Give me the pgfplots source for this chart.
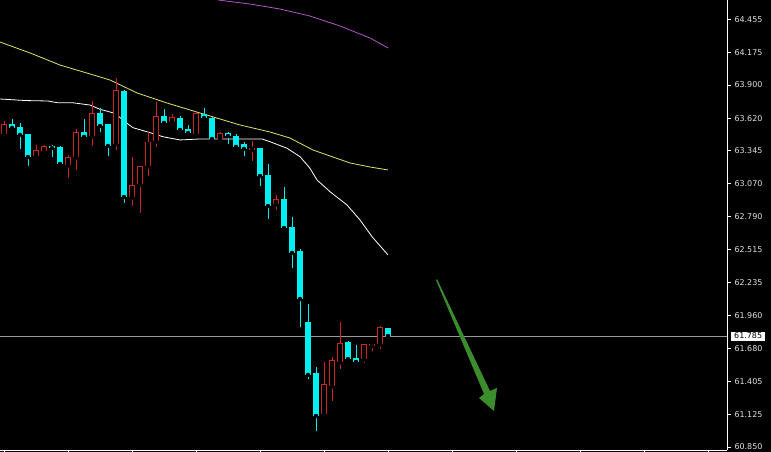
\documentclass[border=0pt]{standalone}
\usepackage{fontspec}
\setmainfont{DejaVu Sans}
\usepackage{pgfplots}
\usepackage{pgfplotstable}
\pgfplotsset{compat=1.18}

\definecolor{bullred}{RGB}{205,35,35}
\definecolor{bearcyan}{RGB}{0,240,240}
\definecolor{mayellow}{RGB}{225,225,110}
\definecolor{mamagenta}{RGB}{175,85,195}
\definecolor{arrowgreen}{RGB}{58,140,45}
\definecolor{lbl}{RGB}{225,225,225}

% rising candles (close above open)
\pgfplotstableread{
x  o      h      l      c
0  63.495 63.597 63.453 63.571
4  63.302 63.394 63.276 63.352
5  63.344 63.394 63.335 63.386
8  63.226 63.310 63.100 63.293
9  63.293 63.529 63.167 63.504
11 63.470 63.765 63.369 63.656
14 63.403 63.959 63.335 63.858
16 62.956 63.293 62.864 63.057
17 63.066 63.217 62.805 63.217
18 63.217 63.504 63.116 63.420
19 63.428 63.757 63.361 63.639
21 63.588 63.656 63.554 63.630
24 63.487 63.664 63.470 63.656
27 63.445 63.504 63.403 63.495
31 63.357 63.428 63.243 63.369
34 62.897 62.973 62.830 62.939
40 61.128 61.566 61.120 61.381
41 61.364 61.608 61.221 61.583
42 61.566 61.903 61.490 61.726
45 61.591 61.718 61.541 61.718
46 61.705 61.726 61.638 61.718
47 61.718 61.869 61.659 61.853
}\bull

% falling candles (close below open)
\pgfplotstableread{
x  o      h      l      c
1  63.571 63.613 63.512 63.538
2  63.546 63.580 63.344 63.479
3  63.487 63.487 63.201 63.293
6  63.386 63.394 63.276 63.369
7  63.378 63.386 63.209 63.234
10 63.504 63.613 63.458 63.462
12 63.664 63.706 63.487 63.554
13 63.571 63.571 63.285 63.386
15 63.849 63.858 62.889 62.956
20 63.639 63.698 63.571 63.580
22 63.622 63.639 63.487 63.521
23 63.529 63.563 63.490 63.495
25 63.656 63.706 63.588 63.622
26 63.622 63.630 63.411 63.445
28 63.495 63.504 63.386 63.470
29 63.470 63.487 63.344 63.378
30 63.403 63.420 63.285 63.361
32 63.369 63.369 63.032 63.133
33 63.142 63.234 62.754 62.880
35 62.939 63.041 62.661 62.695
36 62.704 62.788 62.341 62.485
37 62.501 62.518 61.844 62.097
38 61.903 62.055 61.406 61.457
39 61.474 61.524 60.968 61.111
43 61.735 61.743 61.583 61.591
44 61.600 61.709 61.562 61.566
48 61.853 61.853 61.752 61.785
}\bear

\begin{document}
\begin{tikzpicture}
\useasboundingbox (0,-2bp) rectangle (771bp,450bp);
\fill[black] (0,-2bp) rectangle (771bp,450bp);
\begin{axis}[
  at={(0,0)}, anchor=south west,
  scale only axis, width=727bp, height=450bp,
  xmin=-0.5, xmax=90.375, ymin=60.8247, ymax=64.616,
  axis x line*=bottom, axis y line*=right,
  axis line style={white, line width=0.8bp},
  tick style={white, line width=0.8bp},
  tick align=outside, major tick length=4bp,
  xtick={0,8,...,88}, xticklabels={},
  ytick={60.850,61.125,61.405,61.680,61.960,62.235,62.515,62.790,63.070,63.345,63.620,63.900,64.175,64.455},
  yticklabels={60.850,61.125,61.405,61.680,61.960,62.235,62.515,62.790,63.070,63.345,63.620,63.900,64.175,64.455},
  yticklabel style={font=\fontsize{8}{9}\selectfont, text=lbl},
  error bars/error mark=none,
]

% moving averages
\addplot[mamagenta, line width=0.8bp] coordinates {(26.75,64.616) (30.75,64.582) (34.5,64.540) (38.25,64.481) (42,64.397) (45.75,64.296) (48,64.212)};
\addplot[mayellow, line width=0.8bp] coordinates {(-0.5,64.262) (3.25,64.170) (7,64.068) (10.75,63.993) (13.25,63.942) (16.625,63.833) (20.375,63.748) (24.5,63.664) (29.5,63.563) (33.25,63.504) (35.75,63.453) (38.625,63.352) (40.75,63.302) (43.25,63.243) (45.75,63.209) (48,63.184)};
\addplot[white, line width=0.8bp] coordinates {(-0.5,63.782) (2.625,63.769) (5.5,63.765) (6.625,63.751) (8.5,63.751) (9.75,63.740) (10.75,63.731) (12,63.695) (13.875,63.661) (15.375,63.577) (16.125,63.540) (17.875,63.506) (19.875,63.464) (22,63.437) (24.5,63.445) (32.25,63.445) (33.25,63.422) (35.375,63.367) (37,63.296) (38.25,63.198) (39.125,63.100) (40.75,63.001) (42.875,62.889) (44.5,62.763) (46,62.622) (48,62.468)};

% current price line
\addplot[gray!80, line width=0.6bp] coordinates {(-0.5,61.785) (90.375,61.785)};

% wicks
\addplot[only marks, mark=none, error bars/.cd, y dir=plus, y explicit,
  error bar style={bullred, line width=0.9bp}]
  table[x=x, y=l, y error plus expr=\thisrow{h}-\thisrow{l}] {\bull};
\addplot[only marks, mark=none, error bars/.cd, y dir=plus, y explicit,
  error bar style={bearcyan, line width=0.9bp}]
  table[x=x, y=l, y error plus expr=\thisrow{h}-\thisrow{l}] {\bear};

% falling bodies: filled cyan
\addplot[only marks, mark=none, error bars/.cd, y dir=plus, y explicit,
  error bar style={bearcyan, line width=5.6bp, line cap=butt}]
  table[x=x, y=c, y error plus expr=\thisrow{o}-\thisrow{c}] {\bear};

% rising bodies: red outline, black inside
\addplot[only marks, mark=none, error bars/.cd, y dir=plus, y explicit,
  error bar style={bullred, line width=6.2bp, line cap=butt}]
  table[x=x, y expr=\thisrow{o}-0.0038, y error plus expr=\thisrow{c}-\thisrow{o}+0.0076] {\bull};
\addplot[only marks, mark=none, error bars/.cd, y dir=plus, y explicit,
  error bar style={black, line width=4.2bp, line cap=butt}]
  table[x=x, y expr=\thisrow{o}+0.0046, y error plus expr=\thisrow{c}-\thisrow{o}-0.0092] {\bull};

% drawn annotation arrow
\fill[arrowgreen] (axis cs:54,62.257) -- (axis cs:54.125,62.265) -- (axis cs:60.75,61.322)
  -- (axis cs:61.625,61.347) -- (axis cs:61.25,61.153) -- (axis cs:59.375,61.263)
  -- (axis cs:60,61.297) -- cycle;

\coordinate (cur) at (axis cs:90.375,61.785);
\end{axis}
\node[fill=white, text=black, font=\fontsize{8}{9}\selectfont, anchor=west,
  inner xsep=3bp, inner ysep=1.5bp] at ([xshift=4bp]cur) {61.785};
\end{tikzpicture}
\end{document}
